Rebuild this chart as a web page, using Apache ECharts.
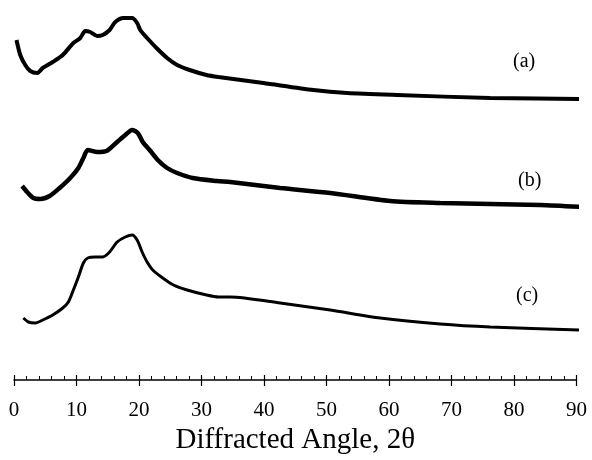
<!DOCTYPE html>
<html>
<head>
<meta charset="utf-8">
<script src="https://cdn.jsdelivr.net/npm/echarts@6/dist/echarts.min.js"></script>
<style>html,body{margin:0;padding:0;background:#fff}#c{width:592px;height:460px}</style>
</head>
<body>
<div id="c"></div>
<script>
// Diffraction angle (2θ) and stacked intensity (arbitrary units, vertical offset included)
const angleA = [0.4,1.0,1.8,2.6,3.7,4.6,6.2,7.8,9.5,10.6,11.4,12.2,13.3,14.2,15.3,16.2,17.5,18.9,19.7,20.2,21.3,22.8,24.5,26.1,28.1,30.8,32.7,39.9,47.9,53.3,61.3,76.2,92.2];
const curveA = [340,325,315,309,307,312,318,325,337,342,349,348,344,345,350,358,362,362,357,350,342,332,322,315,310,305,303,297,290,287,285,282,281];

const angleB = [1.3,2.1,3.1,4.2,5.7,7.3,9.0,10.3,11.1,11.8,13.3,14.8,16.5,17.8,18.9,19.8,20.6,21.7,23.0,24.5,26.1,28.6,32.5,34.6,42.6,50.6,60.2,68.2,76.2,84.2,90.9];
const curveB = [194,188,182,181,184,192,202,212,222,230,228,229,238,245,250,247,238,230,220,212,207,202,199,198,192,187,179,177,176,175,173];

const angleC = [1.5,2.3,3.4,4.6,6.2,7.8,8.7,9.5,10.3,11.1,11.8,13.0,14.2,15.3,16.5,17.8,18.9,19.7,20.5,21.3,22.2,23.8,25.5,27.7,30.8,32.7,34.6,42.6,50.6,58.6,68.2,76.2,90.6];
const curveC = [62,58,57,60,65,72,78,90,103,117,122,123,123,128,138,143,145,140,128,118,110,102,95,90,85,83,83,77,70,62,56,53,50];

const seriesNames = ['(a)','(b)','(c)'];
const xTicks = [0,10,20,30,40,50,60,70,80,90];

const zip = (xs, ys) => xs.map((x, i) => [x, ys[i]]);
const chart = echarts.init(document.getElementById('c'));
const serif = '"Liberation Serif","DejaVu Serif",serif';
const common = {type:'line', showSymbol:false, smooth:0.25, clip:false};

chart.setOption({
  animation:false,
  backgroundColor:'#fff',
  grid:{left:14, right:15.5, top:0, bottom:80},
  xAxis:[{
    type:'value', min:xTicks[0], max:xTicks[xTicks.length-1], interval:10, position:'bottom',
    axisLine:{lineStyle:{color:'#000', width:1.5}},
    axisTick:{inside:true, length:5, lineStyle:{color:'#000', width:1.2}},
    minorTick:{show:true, splitNumber:5, length:4, lineStyle:{color:'#000', width:1}},
    splitLine:{show:false},
    axisLabel:{fontFamily:serif, fontSize:21, color:'#000', margin:20},
    name:'Diffracted Angle, 2θ', nameLocation:'middle', nameGap:46,
    nameTextStyle:{fontFamily:serif, fontSize:29, color:'#000'}
  },{
    type:'value', min:xTicks[0], max:xTicks[xTicks.length-1], interval:10, position:'bottom', offset:0,
    axisLine:{show:false},
    axisTick:{inside:false, length:6, lineStyle:{color:'#000', width:1.2}},
    axisLabel:{show:false}, splitLine:{show:false}
  }],
  yAxis:{type:'value', min:0, max:380, show:false, splitLine:{show:false}},
  series:[
    Object.assign({}, common, {name:seriesNames[0], data:zip(angleA, curveA), lineStyle:{color:'#000', width:4}}),
    Object.assign({}, common, {name:seriesNames[1], data:zip(angleB, curveB), lineStyle:{color:'#000', width:4.5}}),
    Object.assign({}, common, {name:seriesNames[2], data:zip(angleC, curveC), lineStyle:{color:'#000', width:3}})
  ],
  graphic:[
    {type:'text', left:513, top:52, style:{text:seriesNames[0], font:'20px '+serif, fill:'#000'}},
    {type:'text', left:518, top:171, style:{text:seriesNames[1], font:'20px '+serif, fill:'#000'}},
    {type:'text', left:516, top:286, style:{text:seriesNames[2], font:'20px '+serif, fill:'#000'}}
  ]
});
</script>
</body>
</html>
